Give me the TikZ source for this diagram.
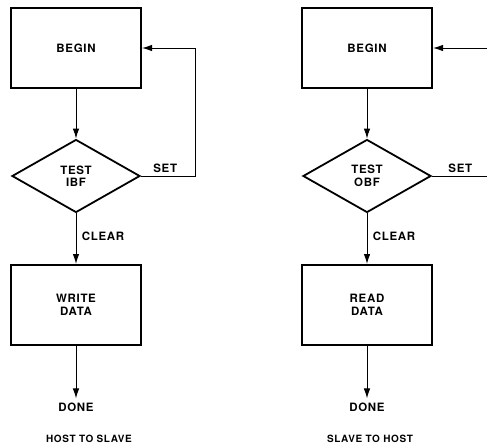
\documentclass[tikz,border=0pt]{standalone}
\usepackage{fontspec}
\setmainfont{TeX Gyre Heros}[LetterSpace=6]
\usetikzlibrary{shapes.geometric, arrows.meta}
\begin{document}
\begin{tikzpicture}[x=1pt, y=-1pt, font=\bfseries\fontsize{11.5}{12.5}\selectfont,
    box/.style={draw, line width=2pt, minimum width=130pt, minimum height=80pt, align=center},
    test/.style={diamond, draw, line width=1.8pt, minimum width=128pt, minimum height=73pt, inner sep=0pt, align=center},
    flow/.style={line width=1pt, -{Latex[length=10pt, width=6.5pt]}}]
    \useasboundingbox (0,0) rectangle (487,447);
    \clip (0,0) rectangle (487,447);
    \foreach \n/\x/\tx/\side/\flag/\act/\title in {l/76/89/195/IBF/WRITE/HOST TO SLAVE, r/367/370/495/OBF/READ/SLAVE TO HOST} {
        \node[box] (begin\n) at (\x,48) {BEGIN};
        \node[test] (test\n) at (\x,176) {TEST\\\flag};
        \node[box] (data\n) at (\x,305) {\act\\DATA};
        \node[inner sep=4pt] (done\n) at (\x,407) {DONE};
        \node[font=\bfseries\fontsize{10}{12}\selectfont] (title\n) at (\tx,439) {\title};
        \coordinate (turn\n) at (\side,176);
        \draw[flow] (begin\n) -- (test\n);
        \draw[flow] (test\n) -- node[right, pos=0.45, xshift=2pt] {CLEAR} (data\n);
        \draw[flow] (data\n) -- (done\n);
        \draw[flow] (test\n.east) -- node[above, pos=0.45] {SET} (turn\n) |- (begin\n.east);
    }
\end{tikzpicture}
\end{document}
